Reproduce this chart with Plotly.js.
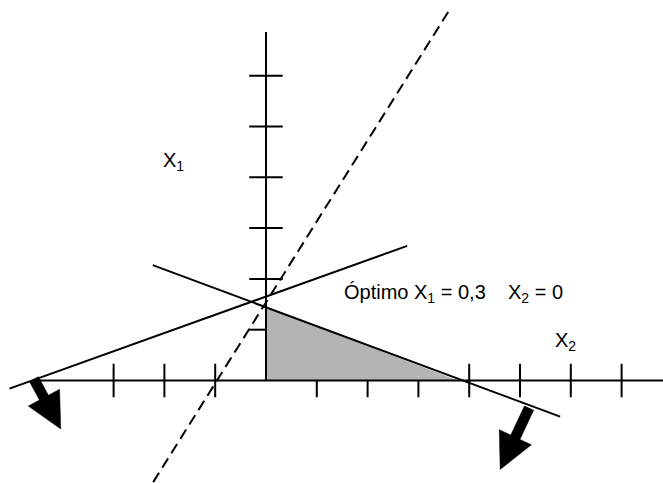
<!DOCTYPE html>
<html>
<head>
<meta charset="utf-8">
<script src="https://cdn.plot.ly/plotly-3.0.1.min.js"></script>
<style>
  html, body { margin: 0; padding: 0; background: #fff; }
  #chart { width: 663px; height: 483px; }
</style>
</head>
<body>
<div id="chart"></div>
<script>
// data, in axis units (one tick = one unit)
const xTicksBoth = [-3, -2, -1, 4, 5, 6, 7];
const xTicksBelow = [1, 2, 3];
const yTicksBoth = [2, 3, 4, 5, 6];
const yTicksLeft = [1];

const xAxisEnds = [-4.57, 8];
const yAxisEnds = [0, 6.86];

const regionX = [0, 0, 3.78];
const regionY = [0, 1.44, 0];

const constraint1X = [-2.23, 5.79];
const constraint1Y = [2.27, -0.71];
const constraint2X = [-5.05, 2.78];
const constraint2Y = [-0.16, 2.65];
const objectiveX = [-2.22, 3.59];
const objectiveY = [-2.0, 7.26];

const arrowStartX = [-4.57, 5.18];
const arrowStartY = [0.03, -0.54];
const arrowTipX = [-4.04, 4.61];
const arrowTipY = [-0.955, -1.75];

const labelText = [
  'X<sub>1</sub>',
  'X<sub>2</sub>',
  'Óptimo X<sub>1</sub> = 0,3\u00a0\u00a0\u00a0\u00a0X<sub>2</sub> = 0'
];
const labelX = [-2.07, 5.64, 1.5];
const labelY = [4.32, 0.758, 1.71];

// page scale: pixels per unit and where the origin sits
const W = 663, H = 483, unit = 50.8, ox = 266, oy = 380.5;
const tickLen = 0.33;
const font = 'Liberation Sans, Arial, sans-serif';

function seg(x, y) {
  return {x: x, y: y, type: 'scatter', mode: 'lines', hoverinfo: 'skip',
          line: {color: '#000', width: 2}};
}

// ticks as one trace with gaps
const tx = [], ty = [];
xTicksBoth.forEach(v => { tx.push(v, v, null); ty.push(-tickLen, tickLen, null); });
xTicksBelow.forEach(v => { tx.push(v, v, null); ty.push(-tickLen, 0, null); });
yTicksBoth.forEach(v => { tx.push(-tickLen, tickLen, null); ty.push(v, v, null); });
yTicksLeft.forEach(v => { tx.push(-tickLen, 0, null); ty.push(v, v, null); });

function arrowPoly(sx, sy, ex, ey) {
  const headLen = 0.7, headHalf = 0.35, shaftHalf = 0.1;
  const len = Math.hypot(ex - sx, ey - sy);
  const dx = (ex - sx) / len, dy = (ey - sy) / len;
  const nx = -dy, ny = dx;
  const bx = ex - dx * headLen, by = ey - dy * headLen;
  const px = [sx + nx * shaftHalf, bx + nx * shaftHalf, bx + nx * headHalf, ex,
              bx - nx * headHalf, bx - nx * shaftHalf, sx - nx * shaftHalf];
  const py = [sy + ny * shaftHalf, by + ny * shaftHalf, by + ny * headHalf, ey,
              by - ny * headHalf, by - ny * shaftHalf, sy - ny * shaftHalf];
  return {x: px, y: py, type: 'scatter', mode: 'lines', fill: 'toself',
          fillcolor: '#000', line: {color: '#000', width: 0.5}, hoverinfo: 'skip'};
}

const traces = [
  {x: regionX, y: regionY, type: 'scatter', mode: 'lines', fill: 'toself',
   fillcolor: '#b4b4b4', line: {width: 0}, hoverinfo: 'skip'},
  seg(constraint1X, constraint1Y),
  seg(constraint2X, constraint2Y),
  {x: objectiveX, y: objectiveY, type: 'scatter', mode: 'lines', hoverinfo: 'skip',
   line: {color: '#000', width: 2, dash: '11px,6px'}},
  seg(xAxisEnds, [0, 0]),
  seg([0, 0], yAxisEnds),
  seg(tx, ty)
];
arrowStartX.forEach((v, i) => {
  traces.push(arrowPoly(v, arrowStartY[i], arrowTipX[i], arrowTipY[i]));
});

const annotations = labelText.map((t, i) => ({
  x: labelX[i], y: labelY[i], xref: 'x', yref: 'y',
  text: t, showarrow: false, xanchor: 'left', yanchor: 'middle',
  font: {family: font, size: 20, color: '#000'}
}));

const layout = {
  width: W, height: H,
  margin: {l: 0, r: 0, t: 0, b: 0},
  paper_bgcolor: '#fff', plot_bgcolor: '#fff',
  showlegend: false,
  xaxis: {range: [-ox / unit, (W - ox) / unit], visible: false, fixedrange: true},
  yaxis: {range: [-(H - oy) / unit, oy / unit], visible: false, fixedrange: true},
  annotations: annotations
};

Plotly.newPlot('chart', traces, layout, {displayModeBar: false, staticPlot: true});
</script>
</body>
</html>
